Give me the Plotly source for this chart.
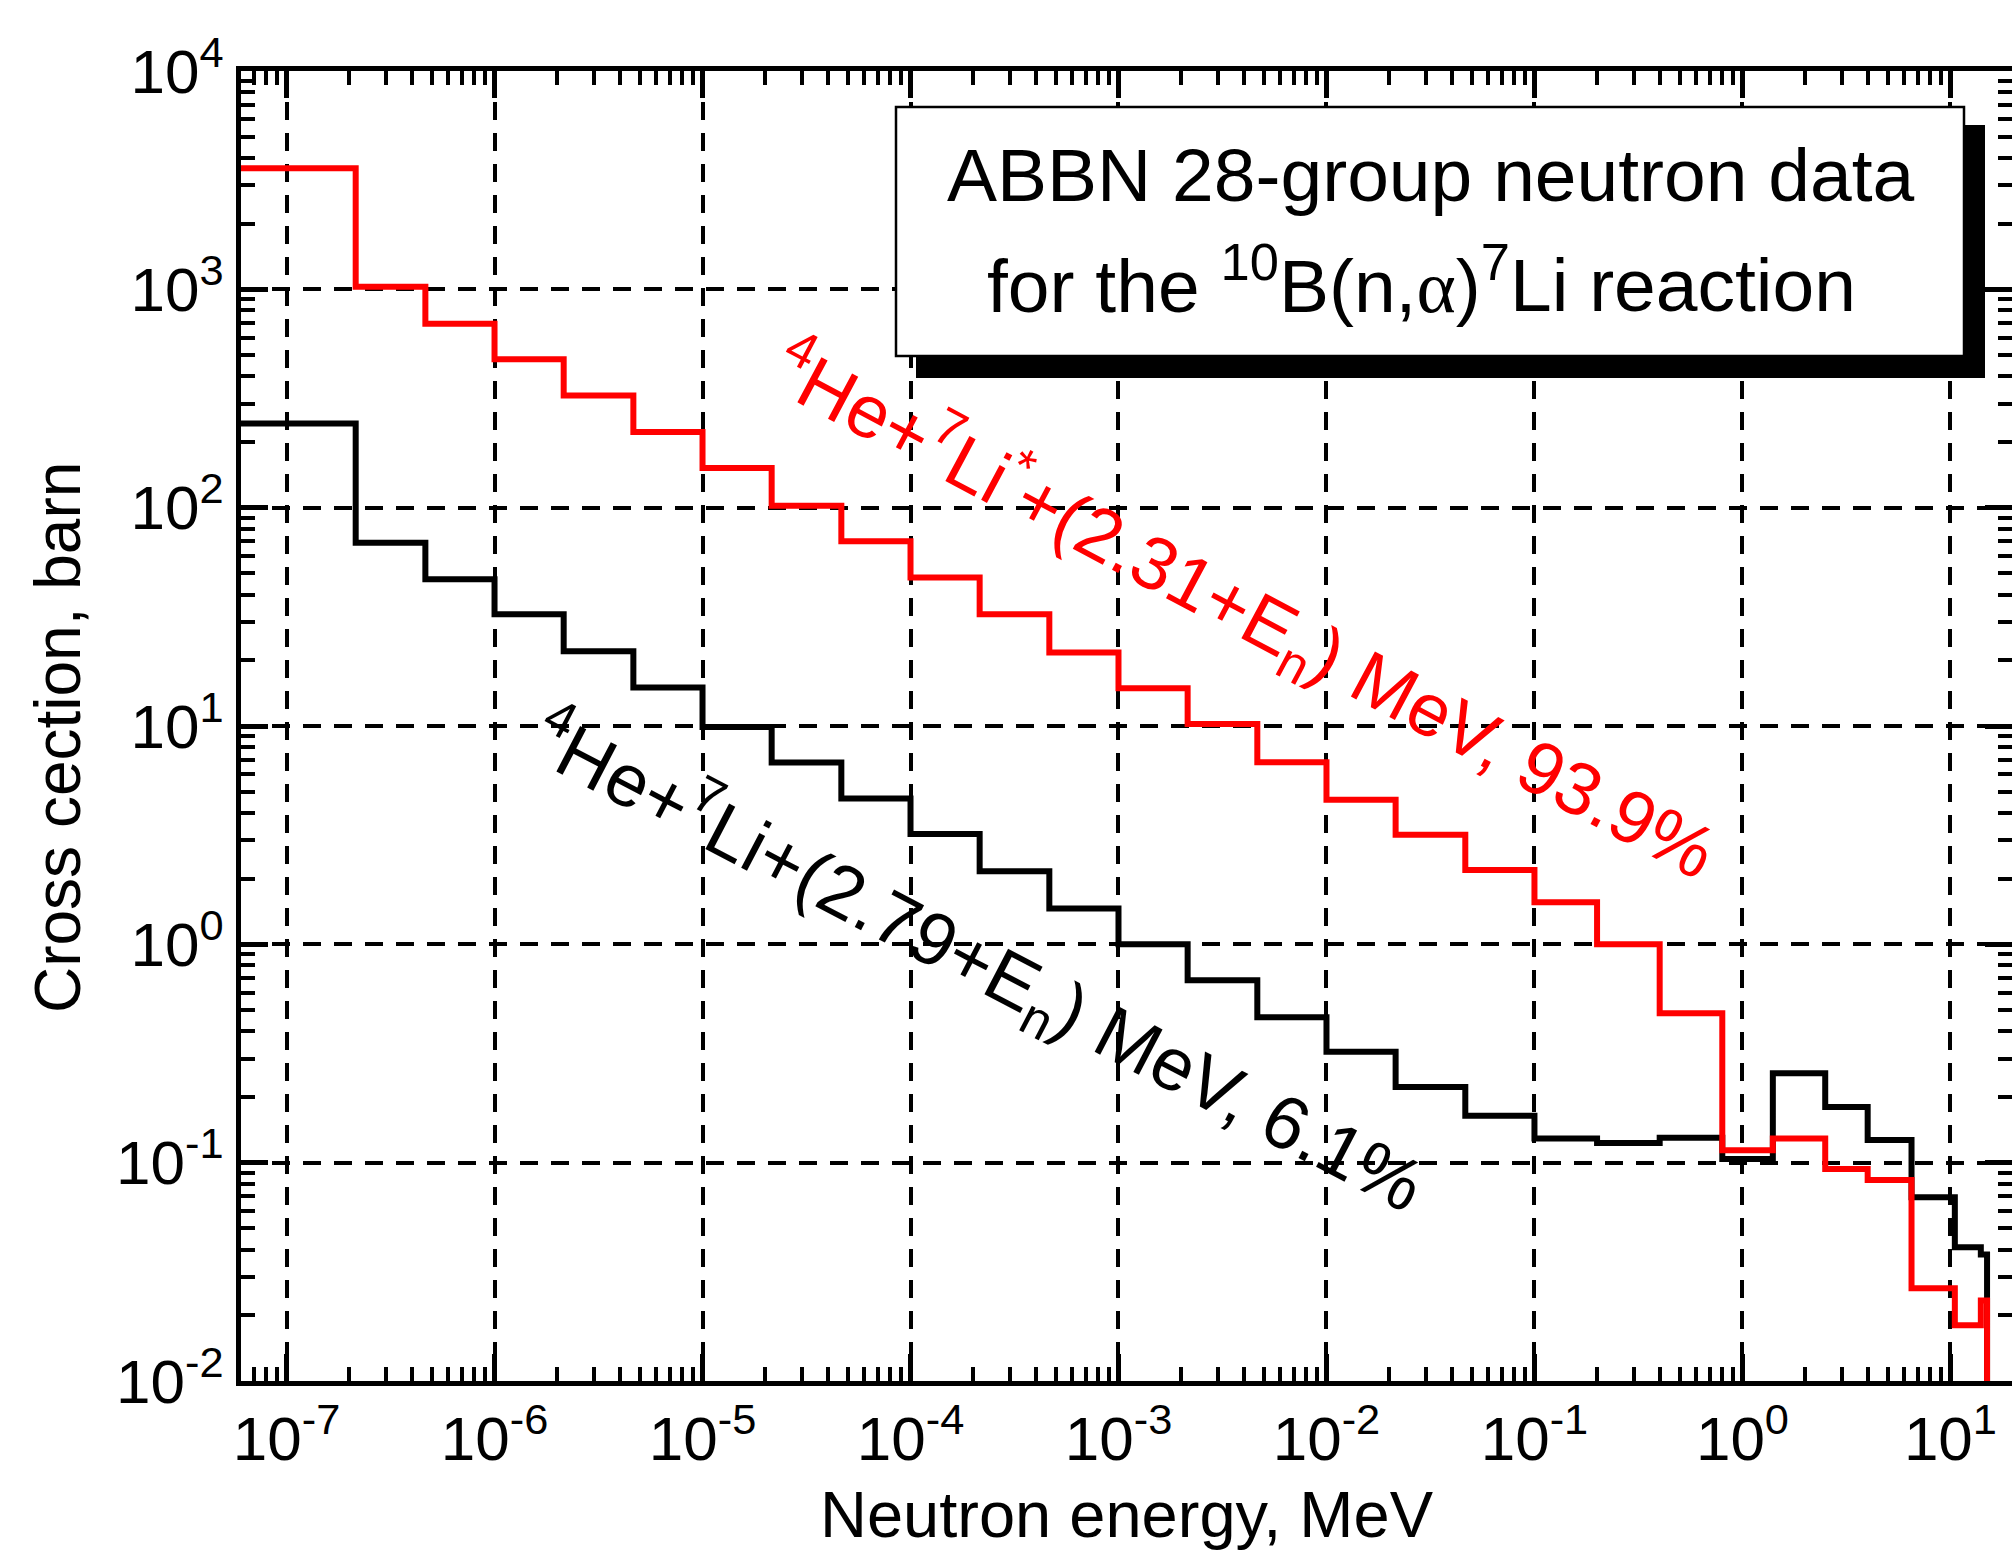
import plotly.graph_objects as go

# ---------------- data ----------------
# ABBN 28-group energy boundaries, MeV (lower edge of thermal group first)
group_edges = [1e-8, 2.15e-7, 4.65e-7, 1e-6, 2.15e-6, 4.65e-6, 1e-5, 2.15e-5, 4.65e-5,
               1e-4, 2.15e-4, 4.65e-4, 1e-3, 2.15e-3, 4.65e-3, 1e-2, 2.15e-2, 4.65e-2,
               0.1, 0.2, 0.4, 0.8, 1.4, 2.5, 4.0, 6.5, 10.5, 14.0, 15.0]

# 4He + 7Li* + (2.31+En) MeV  (93.9 %)
sigma_excited = [3590, 1028, 695, 478, 326, 222, 152, 102, 70.2, 47.9, 32.5, 21.7,
                 14.9, 10.2, 6.82, 4.6, 3.18, 2.19, 1.56, 1.0, 0.484, 0.114, 0.129,
                 0.0936, 0.0833, 0.0266, 0.018, 0.0234]
# 4He + 7Li + (2.79+En) MeV  (6.1 %)
sigma_ground = [243, 69, 47, 32.5, 22.0, 15.0, 9.9, 6.8, 4.65, 3.2, 2.16, 1.46,
                1.0, 0.684, 0.463, 0.322, 0.222, 0.164, 0.129, 0.123, 0.130, 0.104,
                0.257, 0.180, 0.127, 0.0694, 0.041, 0.038]

FLOOR = 1e-3  # step outline drops below the axis after the last group

x_tick_vals = [1e-7, 1e-6, 1e-5, 1e-4, 1e-3, 1e-2, 1e-1, 1e0, 1e1]
x_tick_text = ["10<sup>-7</sup>", "10<sup>-6</sup>", "10<sup>-5</sup>", "10<sup>-4</sup>",
               "10<sup>-3</sup>", "10<sup>-2</sup>", "10<sup>-1</sup>", "10<sup>0</sup>",
               "10<sup>1</sup>"]
y_tick_vals = [1e-2, 1e-1, 1e0, 1e1, 1e2, 1e3, 1e4]
y_tick_text = ["10<sup>-2</sup>", "10<sup>-1</sup>", "10<sup>0</sup>", "10<sup>1</sup>",
               "10<sup>2</sup>", "10<sup>3</sup>", "10<sup>4</sup>"]

x_minor = [k * 10.0 ** n for n in range(-8, 2) for k in range(2, 10)]
y_minor = [k * 10.0 ** n for n in range(-3, 4) for k in range(2, 10)]

# ---------------- layout geometry (pixels) ----------------
W, H = 2012, 1554
L, R, T, B = 241, 2012, 71, 1381


def px(X):
    return (X - L) / (R - L)


def py(Y):
    return (B - Y) / (B - T)


def step_xy(edges, values):
    xs = list(edges)
    ys = list(values) + [values[-1]]
    xs.append(edges[-1])
    ys.append(FLOOR)
    return xs, ys


FONT = "Liberation Sans, Arial, Helvetica, sans-serif"

fig = go.Figure()
gx, gy = step_xy(group_edges, sigma_ground)
fig.add_trace(go.Scatter(x=gx, y=gy, mode="lines",
                         line=dict(color="black", width=6, shape="hv"),
                         name="ground"))
ex, ey = step_xy(group_edges, sigma_excited)
fig.add_trace(go.Scatter(x=ex, y=ey, mode="lines",
                         line=dict(color="#ff0000", width=6, shape="hv"),
                         name="excited"))

axis_common = dict(
    type="log", showline=True, linecolor="black", linewidth=5, mirror="allticks",
    ticks="inside", ticklen=27, tickwidth=4.5, tickcolor="black",
    showgrid=True, gridcolor="black", gridwidth=3.5, griddash="18px,13px",
    zeroline=False, tickfont=dict(family=FONT, size=62, color="black"),
)

fig.update_xaxes(**axis_common, range=[-7.219, 1.296], tickmode="array",
                 tickvals=x_tick_vals, ticktext=x_tick_text,
                 minor=dict(tickmode="array", tickvals=x_minor, ticks="inside",
                            ticklen=14, tickwidth=3.5, tickcolor="black", showgrid=False))
fig.update_yaxes(**axis_common, range=[-2, 4], tickmode="array",
                 tickvals=y_tick_vals, ticktext=y_tick_text,
                 minor=dict(tickmode="array", tickvals=y_minor, ticks="inside",
                            ticklen=14, tickwidth=3.5, tickcolor="black", showgrid=False))

shapes = [
    dict(type="rect", xref="paper", yref="paper", x0=px(916), x1=px(1985),
         y0=py(378), y1=py(125), fillcolor="black", line=dict(width=0), layer="above"),
    dict(type="rect", xref="paper", yref="paper", x0=px(896), x1=px(1964),
         y0=py(356), y1=py(107), fillcolor="white", line=dict(color="black", width=2.5),
         layer="above"),
]

alpha = '<span style="font-family:\'Liberation Serif\',serif">α</span>'
annotations = [
    dict(xref="paper", yref="paper", x=px(1431), y=py(175), showarrow=False,
         text="ABBN 28-group neutron data", font=dict(family=FONT, size=75, color="black"),
         xanchor="center", yanchor="middle"),
    dict(xref="paper", yref="paper", x=px(1421), y=py(280), showarrow=False,
         text="for the <sup>10</sup>B(n," + alpha + ")<sup>7</sup>Li reaction",
         font=dict(family=FONT, size=75, color="black"),
         xanchor="center", yanchor="middle"),
    dict(xref="paper", yref="paper", x=px(1244), y=py(610), showarrow=False,
         text="<sup>4</sup>He+<sup>7</sup>Li<sup>*</sup>+(2.31+E<sub>n</sub>) MeV, 93.9%",
         font=dict(family=FONT, size=74.5, color="#ff0000"), textangle=28,
         xanchor="center", yanchor="middle"),
    dict(xref="paper", yref="paper", x=px(977), y=py(962), showarrow=False,
         text="<sup>4</sup>He+<sup>7</sup>Li+(2.79+E<sub>n</sub>) MeV, 6.1%",
         font=dict(family=FONT, size=74.5, color="black"), textangle=27.5,
         xanchor="center", yanchor="middle"),
    dict(xref="paper", yref="paper", x=px(1127), y=py(1514), showarrow=False,
         text="Neutron energy, MeV", font=dict(family=FONT, size=65, color="black"),
         xanchor="center", yanchor="middle"),
    dict(xref="paper", yref="paper", x=px(58), y=py(738), showarrow=False,
         text="Cross cection, barn", font=dict(family=FONT, size=64, color="black"),
         textangle=-90, xanchor="center", yanchor="middle"),
]

fig.update_layout(
    width=W, height=H, margin=dict(l=L, r=W - R, t=T, b=H - B, autoexpand=False),
    paper_bgcolor="white", plot_bgcolor="white", showlegend=False,
    shapes=shapes, annotations=annotations, font=dict(family=FONT, color="black"),
)

fig.write_html("out.html")
